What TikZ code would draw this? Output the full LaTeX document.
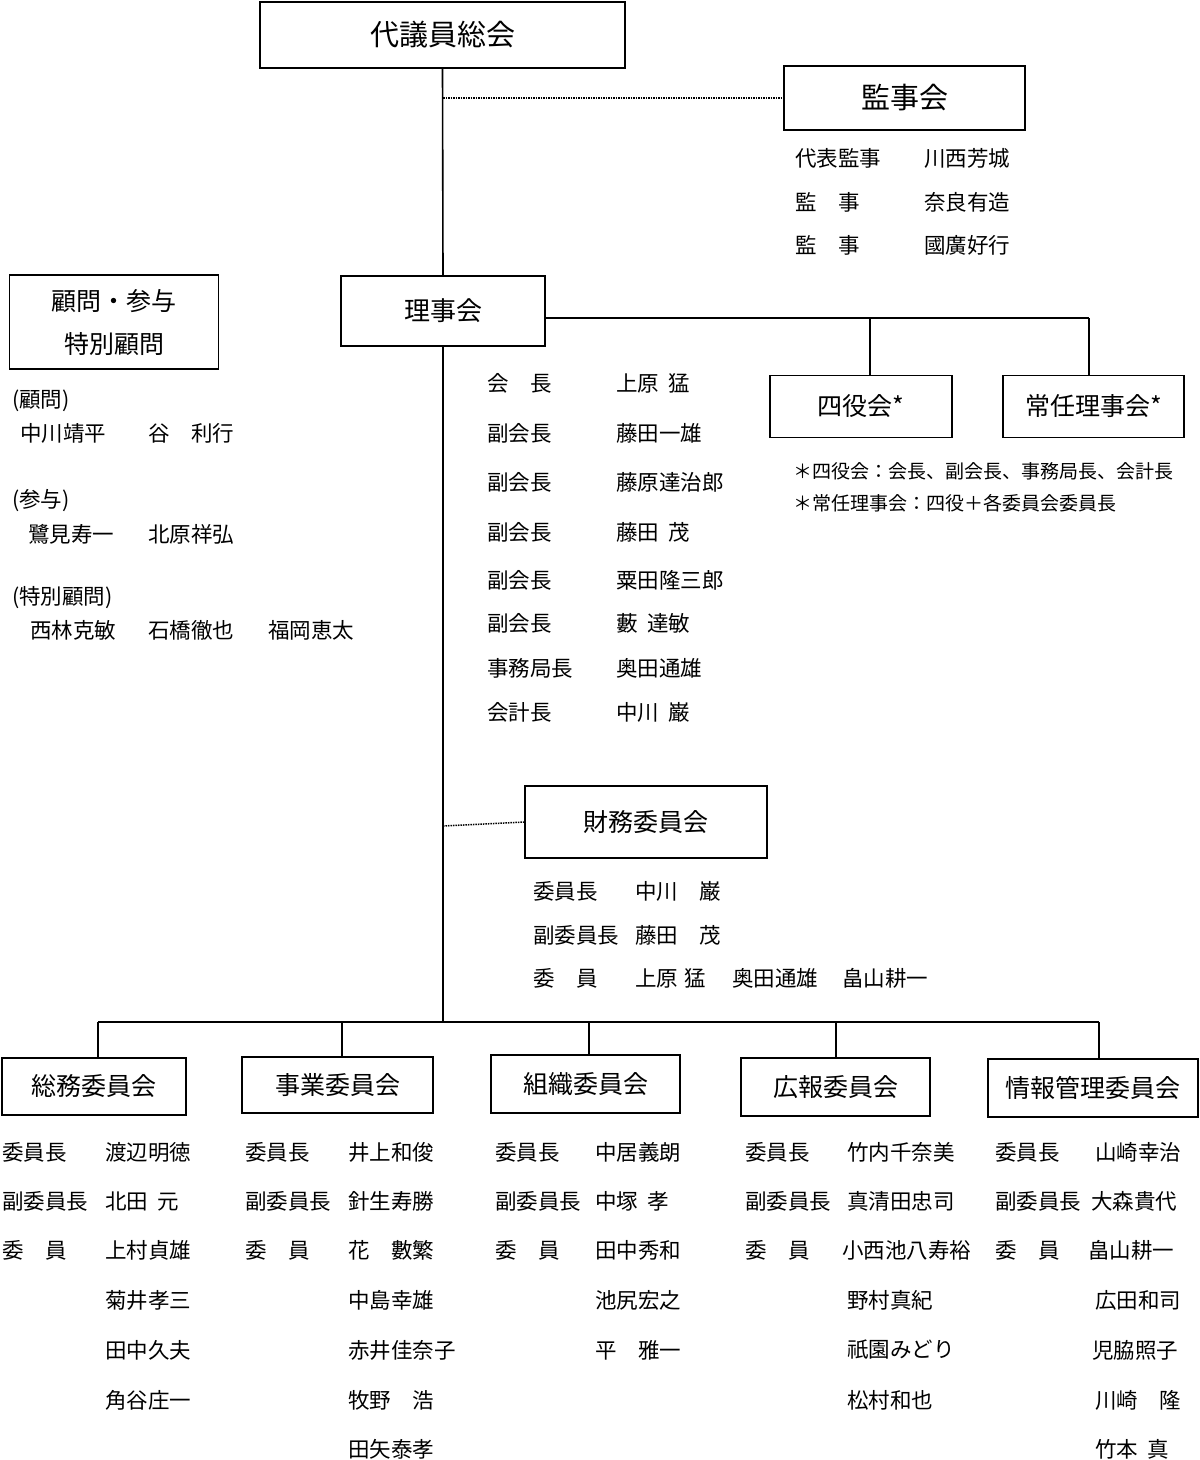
\documentclass[tikz,border=0pt]{standalone}
\usepackage{fontspec}
\setmainfont{Noto Sans CJK JP}
\newcommand\hs{\hspace{0.45em}}
\begin{document}
\begin{tikzpicture}[x=1pt,y=-1pt,
  box/.style={draw,line width=1.6pt,inner sep=0pt,font=\fontsize{25}{30}\selectfont},
  txt/.style={anchor=west,inner sep=0pt,font=\fontsize{21.5}{26}\selectfont},
  ctxt/.style={inner sep=0pt,font=\fontsize{25}{30}\selectfont},
  note/.style={anchor=west,inner sep=0pt,font=\fontsize{19}{23}\selectfont},
  conn/.style={line width=1.6pt},
  dotc/.style={line width=1.5pt,densely dotted}]
\useasboundingbox (0,0) rectangle (1200,1460);

% main boxes
\node[box,minimum width=365pt,minimum height=66pt,font=\fontsize{29}{34}\selectfont] (daigi) at (442.5,35) {代議員総会};
\node[box,minimum width=241pt,minimum height=64pt,font=\fontsize{29}{34}\selectfont] (kanji) at (904.5,98) {監事会};
\node[box,minimum width=204pt,minimum height=70pt,font=\fontsize{26}{30}\selectfont] (riji) at (443,311) {理事会};
\node[box,minimum width=209pt,minimum height=94pt] (komon) at (114,322) {};
\node[ctxt] (komonA) at (114,301) {顧問・参与};
\node[ctxt] (komonB) at (114,344) {特別顧問};
\node[box,minimum width=182pt,minimum height=62pt] (yon) at (861,406.5) {四役会*};
\node[box,minimum width=181pt,minimum height=62pt] (joun) at (1093.5,406.5) {常任理事会*};
\node[box,minimum width=242pt,minimum height=72pt] (zaimu) at (646,822) {財務委員会};

% committee boxes
\node[box,minimum width=184pt,minimum height=57pt] (soumu) at (94,1086.5) {総務委員会};
\node[box,minimum width=191pt,minimum height=56pt] (jigyo) at (337.5,1085) {事業委員会};
\node[box,minimum width=189pt,minimum height=58pt] (soshiki) at (585.5,1084) {組織委員会};
\node[box,minimum width=189pt,minimum height=58pt] (kouhou) at (835.5,1087) {広報委員会};
\node[box,minimum width=210pt,minimum height=58pt] (jouhou) at (1093,1088) {情報管理委員会};

% connectors
\coordinate (jk) at (443,98);
\coordinate (jz) at (443,826);
\coordinate (jb) at (443,1022);
\coordinate (r0) at (545,318);
\coordinate (r1) at (870,318);
\coordinate (r2) at (1089,318);
\coordinate (c1) at (98,1022);
\coordinate (c2) at (342,1022);
\coordinate (c3) at (589,1022);
\coordinate (c4) at (836,1022);
\coordinate (c5) at (1099,1022);

\draw[conn] (daigi.south) -- (riji.north);
\draw[dotc] (jk) -- (kanji.west);
\draw[conn] (riji.south) -- (jb);
\draw[dotc] (jz) -- (zaimu.west);
\draw[conn] (r0) -- (r2);
\draw[conn] (r1) -- (r1 |- yon.north);
\draw[line width=2.6pt] (r2) -- (r2 |- joun.north);
\draw[conn] (c1) -- (c5);
\draw[conn] (c1) -- (c1 |- soumu.north);
\draw[conn] (c2) -- (c2 |- jigyo.north);
\draw[conn] (c3) -- (c3 |- soshiki.north);
\draw[conn] (c4) -- (c4 |- kouhou.north);
\draw[conn] (c5) -- (c5 |- jouhou.north);

% auditors
\foreach \y/\a/\b [count=\i] in {158/代表監事/川西芳城,202/監　事/奈良有造,245/監　事/國廣好行}{
  \node[txt] (aa\i) at (795,\y) {\a};
  \node[txt] (ab\i) at (924,\y) {\b};
}

% advisors
\node[txt] (adv1) at (12,401) {(顧問)};
\node[txt] (adv2) at (20,433) {中川靖平};
\node[txt] (adv3) at (148,433) {谷　利行};
\node[txt] (adv4) at (12,501) {(参与)};
\node[txt] (adv5) at (28,534) {鷺見寿一};
\node[txt] (adv6) at (148,534) {北原祥弘};
\node[txt] (adv7) at (12,598) {(特別顧問)};
\node[txt] (adv8) at (30,630) {西林克敏};
\node[txt] (adv9) at (148,630) {石橋徹也};
\node[txt] (adv10) at (268,630) {福岡恵太};

% officers
\foreach \y/\a/\b [count=\i] in {383/会　長/上原\hs 猛,433/副会長/藤田一雄,482/副会長/藤原達治郎,532/副会長/藤田\hs 茂,580/副会長/粟田隆三郎,623/副会長/藪\hs 達敏,668/事務局長/奥田通雄,712/会計長/中川\hs 巌}{
  \node[txt] (oa\i) at (487,\y) {\a};
  \node[txt] (ob\i) at (616,\y) {\b};
}

% notes
\node[note] (n1) at (793,471) {＊四役会：会長、副会長、事務局長、会計長};
\node[note] (n2) at (793,503) {＊常任理事会：四役＋各委員会委員長};

% finance
\node[txt] (fa1) at (533,891) {委員長};
\node[txt] (fb1) at (635,891) {中川　巌};
\node[txt] (fa2) at (533,935) {副委員長};
\node[txt] (fb2) at (635,935) {藤田　茂};
\node[txt] (fa3) at (533,978) {委　員};
\node[txt] (fb3) at (635,978) {上原\hspace{0.3em}猛};
\node[txt] (fc3) at (732,978) {奥田通雄};
\node[txt] (fd3) at (842,978) {畠山耕一};

% committee lists
\foreach \y/\a [count=\i] in {1152/委員長,1201/副委員長,1250/委　員}{
  \node[txt] (sa\i) at (2,\y) {\a};
  \node[txt] (ja\i) at (245,\y) {\a};
  \node[txt] (ka\i) at (495,\y) {\a};
  \node[txt] (ha\i) at (745,\y) {\a};
  \node[txt] (ia\i) at (995,\y) {\a};
}
\foreach \y/\b [count=\i] in {1152/渡辺明徳,1201/北田\hs 元,1250/上村貞雄,1300/菊井孝三,1350/田中久夫,1400/角谷庄一}{
  \node[txt] (sb\i) at (105,\y) {\b};
}
\foreach \y/\b [count=\i] in {1152/井上和俊,1201/針生寿勝,1250/花　數繁,1300/中島幸雄,1350/赤井佳奈子,1400/牧野　浩,1449/田矢泰孝}{
  \node[txt] (jb\i) at (348,\y) {\b};
}
\foreach \y/\b [count=\i] in {1152/中居義朗,1201/中塚\hs 孝,1250/田中秀和,1300/池尻宏之,1350/平　雅一}{
  \node[txt] (kb\i) at (595,\y) {\b};
}
\foreach \y/\x/\b [count=\i] in {1152/847/竹内千奈美,1201/847/真清田忠司,1250/842/小西池八寿裕,1300/847/野村真紀,1350/847/祇園みどり,1400/847/松村和也}{
  \node[txt] (hb\i) at (\x,\y) {\b};
}
\foreach \y/\x/\b [count=\i] in {1152/1095/山崎幸治,1201/1091/大森貴代,1250/1088/畠山耕一,1300/1095/広田和司,1350/1092/児脇照子,1400/1095/川崎　隆,1449/1095/竹本\hs 真}{
  \node[txt] (ib\i) at (\x,\y) {\b};
}
\end{tikzpicture}
\end{document}
